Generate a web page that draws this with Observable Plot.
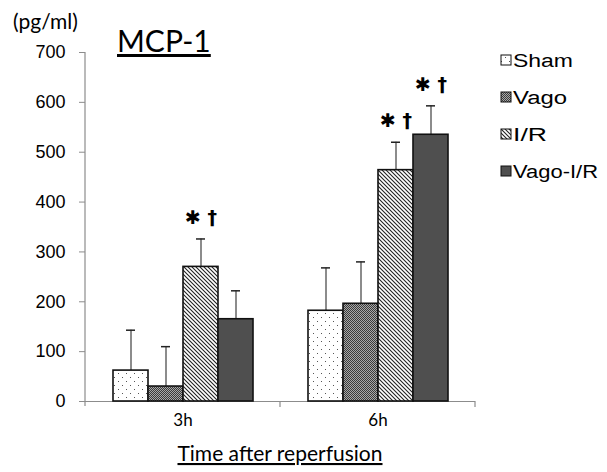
<!DOCTYPE html>
<html>
<head>
<meta charset="utf-8">
<script src="https://cdn.jsdelivr.net/npm/d3@7"></script>
<script src="https://cdn.jsdelivr.net/npm/@observablehq/plot@0.6"></script>
<style>
  body { margin: 0; background: white; }
</style>
</head>
<body>
<div id="chart"></div>
<script>
const groups = ["Sham", "Vago", "I/R", "Vago-I/R"];
const times = ["3h", "6h"];
const mean3h = [62, 30, 270, 165];
const err3h = [81, 80, 56, 57];
const mean6h = [182, 196, 464, 535];
const err6h = [86, 84, 56, 58];
const sig3h = ["", "", "✱ †", ""];
const sig6h = ["", "", "✱ †", "✱ †"];
const yTicks = [0, 100, 200, 300, 400, 500, 600, 700];

const means = [mean3h, mean6h];
const errs = [err3h, err6h];
const sigs = [sig3h, sig6h];
const data = times.flatMap((t, i) => groups.map((g, j) => ({
  time: t, group: g, mean: means[i][j], err: errs[i][j], sig: sigs[i][j]
})));

const fills = ["url(#pDots)", "url(#pCheck)", "url(#pDiag)", "#4f4f4f"];

const plot = Plot.plot({
  width: 607,
  height: 472,
  marginLeft: 84,
  marginRight: 132,
  marginTop: 52,
  marginBottom: 71,
  style: { fontFamily: "'Liberation Sans', Arial, sans-serif", background: "white", color: "black" },
  fx: { domain: times, padding: 0, label: null },
  x: { domain: groups, paddingInner: 0, paddingOuter: 0.76, axis: null },
  y: { domain: [0, 700], label: null },
  color: { type: "ordinal", domain: groups, range: fills },
  marks: [
    Plot.axisY({ ticks: yTicks, tickSize: 6, tickPadding: 14, fontSize: 18, stroke: "#8c8c8c", label: null }),
    Plot.axisFx({ anchor: "bottom", tickSize: 0, tickPadding: 12, fontSize: 17, fontFamily: "Lato", label: null }),
    Plot.ruleY([0], { stroke: "#8c8c8c", strokeWidth: 1.2 }),
    Plot.ruleX(data, { fx: "time", x: "group", y1: "mean", y2: d => d.mean + d.err, stroke: "#666", strokeWidth: 1.5 }),
    Plot.barY(data, { fx: "time", x: "group", y: "mean", fill: "group", stroke: "#111", strokeWidth: 1.6 }),
    Plot.tickY(data, { fx: "time", x: "group", y: d => d.mean + d.err, insetLeft: 13, insetRight: 13, stroke: "#222", strokeWidth: 1.5 }),
    Plot.text(data.filter(d => d.sig), { fx: "time", x: "group", y: d => d.mean + d.err, dy: -21, text: "sig", fontSize: 19, fontWeight: "bold", fontFamily: "DejaVu Sans" })
  ]
});

document.getElementById("chart").appendChild(plot);

const svg = d3.select(plot);
const defs = svg.insert("defs", ":first-child");
// dotted
const pd = defs.append("pattern").attr("id", "pDots").attr("patternUnits", "userSpaceOnUse").attr("width", 8).attr("height", 8);
pd.append("rect").attr("width", 8).attr("height", 8).attr("fill", "white");
pd.append("rect").attr("x", 1).attr("y", 1).attr("width", 1).attr("height", 1).attr("fill", "#555");
pd.append("rect").attr("x", 5).attr("y", 5).attr("width", 1).attr("height", 1).attr("fill", "#555");
// checker
const pc = defs.append("pattern").attr("id", "pCheck").attr("patternUnits", "userSpaceOnUse").attr("width", 2).attr("height", 2);
pc.append("rect").attr("width", 2).attr("height", 2).attr("fill", "#a8a8a8");
pc.append("rect").attr("x", 0).attr("y", 0).attr("width", 1).attr("height", 1).attr("fill", "#3a3a3a");
pc.append("rect").attr("x", 1).attr("y", 1).attr("width", 1).attr("height", 1).attr("fill", "#3a3a3a");
// diagonal
const pg = defs.append("pattern").attr("id", "pDiag").attr("patternUnits", "userSpaceOnUse").attr("width", 4).attr("height", 4);
pg.append("rect").attr("width", 4).attr("height", 4).attr("fill", "white");
pg.append("path").attr("d", "M-1,-1L5,5M3,-1L5,1M-1,3L1,5").attr("stroke", "#222").attr("stroke-width", 1.1);

// axis lines and category boundary ticks from the plot's own scales
const ys = plot.scale("y");
const fxs = plot.scale("fx");
const y0 = ys.apply(0), yTop = ys.apply(700);
const edges = times.map(t => fxs.apply(t));
edges.push(fxs.apply(times[times.length - 1]) + fxs.bandwidth);
const axisG = svg.append("g").attr("stroke", "#8c8c8c").attr("stroke-width", 1.2);
axisG.append("line").attr("x1", edges[0]).attr("x2", edges[0]).attr("y1", yTop).attr("y2", y0 + 5);
edges.slice(1).forEach(x => axisG.append("line").attr("x1", x).attr("x2", x).attr("y1", y0).attr("y2", y0 + 6));

// titles
svg.append("text").attr("x", 13).attr("y", 29).attr("text-anchor", "start").attr("font-family", "Lato").attr("font-size", 21).attr("fill", "black").text("(pg/ml)");
svg.append("text").attr("x", 117).attr("y", 52).attr("text-anchor", "start").attr("font-family", "Lato").attr("font-size", 30).attr("fill", "black").style("text-decoration", "underline").text("MCP-1");
svg.append("text").attr("x", (edges[0] + edges[edges.length - 1]) / 2).attr("y", 461).attr("text-anchor", "middle").attr("font-family", "Lato").attr("font-size", 21).attr("fill", "black").style("text-decoration", "underline").text("Time after reperfusion");

// legend
const legendWidths = [60, 54, 34, 85];
const leg = svg.append("g").attr("text-anchor", "start");
groups.forEach((g, i) => {
  const cy = 60 + i * 37;
  leg.append("rect").attr("x", 501).attr("y", cy - 5).attr("width", 10).attr("height", 10)
    .attr("fill", fills[i]).attr("stroke", "#111").attr("stroke-width", 1);
  leg.append("text").attr("x", 513).attr("y", cy + 6.5).attr("text-anchor", "start").attr("font-size", 18).attr("fill", "black")
    .attr("textLength", legendWidths[i]).attr("lengthAdjust", "spacingAndGlyphs").text(g);
});
</script>
</body>
</html>
